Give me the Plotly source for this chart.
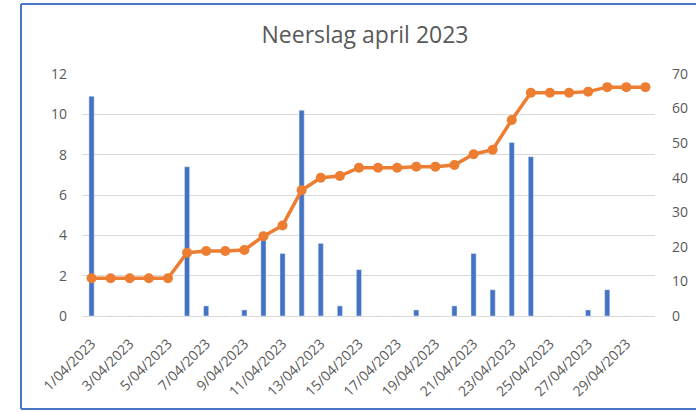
import plotly.graph_objects as go

days = [f"{d}/04/2023" for d in range(1, 31)]
daily_mm = [10.9, 0, 0, 0, 0, 7.4, 0.5, 0, 0.3, 3.9,
            3.1, 10.2, 3.6, 0.5, 2.3, 0, 0, 0.3, 0, 0.5,
            3.1, 1.3, 8.6, 7.9, 0, 0, 0.3, 1.3, 0, 0]
cumulative_mm = [10.9, 10.9, 10.9, 10.9, 10.9, 18.3, 18.8, 18.8, 19.1, 23.1,
                 26.2, 36.4, 40.0, 40.5, 42.9, 42.9, 42.9, 43.2, 43.2, 43.7,
                 46.8, 48.1, 56.7, 64.6, 64.6, 64.6, 64.9, 66.2, 66.2, 66.2]
tick_labels = days[::2]
left_ticks = [0, 2, 4, 6, 8, 10, 12]
right_ticks = [0, 10, 20, 30, 40, 50, 60, 70]

W, H = 696, 412
L, R, T, B = 82, 41, 74, 96
pw, ph = W - L - R, H - T - B

def px_x(x):
    return (x - L) / pw

def px_y(y):
    return (H - B - y) / ph

fig = go.Figure()
fig.add_trace(go.Bar(x=days, y=daily_mm, marker_color="#4472C4", yaxis="y",
                     showlegend=False))
fig.add_trace(go.Scatter(x=days, y=cumulative_mm, yaxis="y2", mode="lines+markers",
                         line=dict(color="#ED7D31", width=3.5),
                         marker=dict(color="#ED7D31", size=10),
                         showlegend=False))

border = dict(color="#4A76C6", width=2)
bx0, bx1, by0, by1 = px_x(21), px_x(697), px_y(409), px_y(4)

font = "Open Sans, Liberation Sans, sans-serif"
fig.update_layout(
    width=W, height=H,
    margin=dict(l=L, r=R, t=T, b=B, autoexpand=False),
    paper_bgcolor="white", plot_bgcolor="white",
    bargap=0.73,
    title=dict(text="Neerslag april 2023", x=365 / W, xanchor="center",
               y=1 - 35 / H, yanchor="middle",
               font=dict(family=font, size=23, color="#595959")),
    font=dict(family=font, color="#595959"),
    xaxis=dict(type="category", tickmode="array", tickvals=tick_labels,
               ticktext=tick_labels, tickangle=-45, showgrid=False,
               range=[-0.5, len(days) - 0.5], ticklabelstandoff=13,
               showline=True, linecolor="#d9d9d9", linewidth=1, automargin=False,
               ticks="", tickfont=dict(size=14, color="#595959")),
    yaxis=dict(range=[0, 12], tickvals=left_ticks, showgrid=True, automargin=False,
               gridcolor="#d9d9d9", gridwidth=1, zeroline=False,
               ticklabelstandoff=14, tickfont=dict(size=14, color="#595959")),
    yaxis2=dict(range=[0, 70], tickvals=right_ticks, overlaying="y", side="right",
                showgrid=False, zeroline=False, ticklabelstandoff=16, automargin=False,
                tickfont=dict(size=14, color="#595959")),
    shapes=[
        dict(type="line", xref="paper", yref="paper", x0=bx0, x1=bx0, y0=by0, y1=by1,
             line=border, layer="below"),
        dict(type="line", xref="paper", yref="paper", x0=bx0, x1=bx1, y0=by1, y1=by1,
             line=border, layer="below"),
        dict(type="line", xref="paper", yref="paper", x0=bx0, x1=bx1, y0=by0, y1=by0,
             line=border, layer="below"),
    ],
)

fig.write_html("out.html", config={"displayModeBar": False},
               post_script="document.body.style.margin='0';"
                           "document.body.style.overflow='hidden';")
